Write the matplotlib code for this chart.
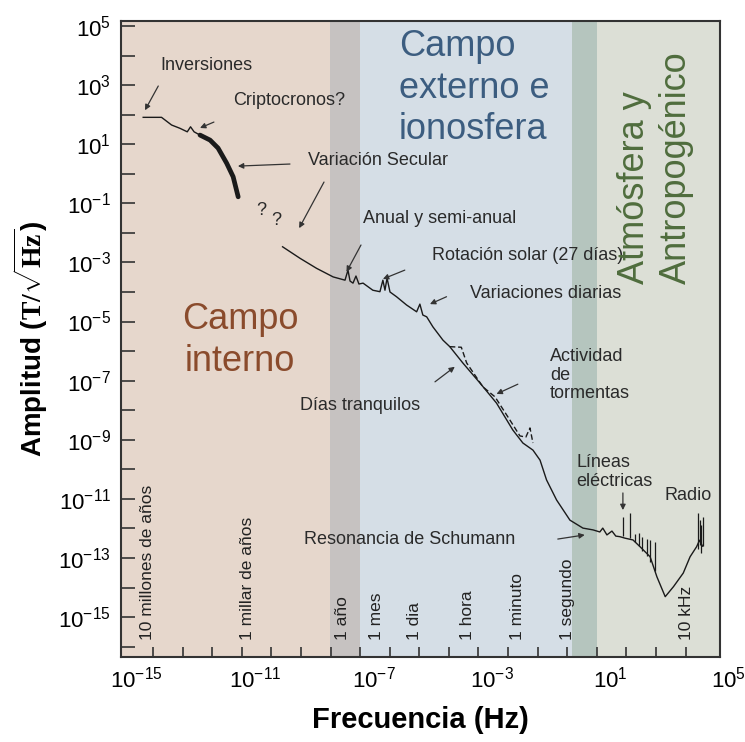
import numpy as np
import matplotlib.pyplot as plt

plt.rcParams['font.family'] = ['Liberation Sans', 'DejaVu Sans']
plt.rcParams['mathtext.fontset'] = 'custom'
plt.rcParams['mathtext.rm'] = 'Liberation Sans'
plt.rcParams['mathtext.bf'] = 'Liberation Serif:bold'

# todo en exponentes log10: frecuencia (Hz) y amplitud (T/sqrt(Hz))
xlim_exp = [-15.54, 4.71]
ylim_exp = [-16.35, 5.18]

band_edges = [-15.54, -8.47, -7.46, -0.30, 0.57, 4.71]
band_colors = ['#e6d7cc', '#c6c2c1', '#d5dee6', '#b5c5be', '#dcdfd6']

# variacion secular / inversiones (tramo fino y tramo grueso)
sec_f = [-14.78, -14.16, -13.82, -13.54, -13.29, -13.18, -13.06, -12.86]
sec_a = [1.91, 1.91, 1.65, 1.54, 1.42, 1.59, 1.42, 1.31]
sec2_f = [-12.86, -12.52, -12.25, -11.96, -11.74, -11.57]
sec2_a = [1.31, 1.14, 0.87, 0.36, -0.10, -0.78]

# espectro principal
main_f = [-10.07, -9.48, -8.92, -8.36, -7.96, -7.86, -7.79, -7.69, -7.59, -7.49,
          -7.35, -7.02, -6.78, -6.68, -6.61, -6.54, -6.44, -6.22, -5.88, -5.54,
          -5.43, -5.33, -5.20, -4.99, -4.65, -4.42, -3.98, -3.40, -2.84, -2.29,
          -1.95, -1.61, -1.37, -1.15, -0.81, -0.36, 0.08, 0.42, 0.65, 0.75,
          0.89, 1.06, 1.19, 1.33, 1.50, 1.77, 2.01, 2.35, 2.58, 2.86,
          3.14, 3.47, 3.70, 3.92, 4.02, 4.12]
main_a = [-2.47, -2.86, -3.20, -3.49, -3.60, -3.26, -3.63, -3.70, -3.46, -3.73,
          -3.70, -3.94, -3.99, -3.60, -3.94, -3.53, -4.00, -4.16, -4.44, -4.67,
          -4.41, -4.78, -4.84, -5.18, -5.63, -5.85, -6.40, -7.08, -7.76, -8.67,
          -9.11, -9.35, -9.69, -10.36, -11.04, -11.72, -11.99, -12.05, -12.12, -11.99,
          -12.22, -12.09, -12.26, -12.28, -12.33, -12.39, -12.62, -12.96, -13.64, -14.31,
          -13.97, -13.51, -12.96, -12.62, -12.40, -12.60]

# dias con tormenta (linea discontinua)
storm_f = [-4.42, -4.03, -3.85, -3.30, -2.89, -2.39, -2.05, -1.85, -1.71, -1.61]
storm_a = [-5.85, -5.87, -6.40, -7.21, -7.55, -8.33, -8.87, -8.91, -8.60, -9.11]

# picos: lineas electricas y radio
spike_f = [1.42, 1.67, 1.83, 1.98, 2.09, 2.23, 2.36, 2.51, 3.97, 4.02, 4.07, 4.12]
spike_lo = [-12.26, -12.33, -12.45, -12.60, -12.75, -12.95, -13.15, -13.45, -12.70, -12.55, -12.83, -12.60]
spike_hi = [-11.60, -11.48, -12.20, -12.15, -12.30, -12.35, -12.40, -12.45, -11.48, -11.70, -11.90, -11.60]

# etiquetas de periodo (verticales)
period_labels = ['10 millones de años', '1 millar de años', '1 año', '1 mes', '1 dia',
                 '1 hora', '1 minuto', '1 segundo', '10 kHz']
period_f = [-14.62, -11.24, -8.03, -6.88, -5.60, -3.81, -2.12, -0.43, 3.59]
period_y = -15.78

# anotaciones: texto, posicion del texto, cola y punta de la flecha
notes = ['Inversiones', 'Criptocronos?', 'Variación Secular', 'Anual y semi-anual',
         'Rotación solar (27 días)', 'Variaciones diarias', 'Actividad\nde\ntormentas',
         'Días tranquilos', 'Resonancia de Schumann', 'Líneas\neléctricas', 'Radio',
         '?', '?']
notes_f = [-14.21, -11.75, -9.21, -7.35, -5.03, -3.74, -1.04, -9.48, -9.35, -0.13, 2.84,
           -10.95, -10.44]
notes_a = [3.68, 2.49, 0.46, -1.53, -2.78, -4.04, -6.81, -7.83, -12.39, -10.09, -10.87,
           -1.23, -1.57]

arrow_tail = [(-14.27, 2.97), (-12.39, 1.75), (-9.82, 0.33), (-8.67, -0.28),
              (-7.42, -2.41), (-5.94, -3.26), (-4.53, -4.16), (-2.12, -7.12),
              (-4.92, -7.04), (-0.77, -12.36), (1.43, -10.80)]
arrow_head = [(-14.72, 2.15), (-12.86, 1.55), (-11.58, 0.26), (-9.51, -1.84),
              (-7.91, -3.32), (-6.68, -3.56), (-5.09, -4.41), (-2.84, -7.45),
              (-4.25, -6.53), (0.14, -12.22), (1.43, -11.38)]


def p(v):
    return 10.0 ** np.asarray(v)


fig = plt.figure(figsize=(7.45, 7.42), dpi=100)
ax = fig.add_axes([0.162, 0.1146, 0.8044, 0.8575])
ax.set_xscale('log')
ax.set_yscale('log')
ax.set_xlim(p(xlim_exp))
ax.set_ylim(p(ylim_exp))

for i in range(len(band_colors)):
    ax.axvspan(p(band_edges[i]), p(band_edges[i + 1]), color=band_colors[i], lw=0, zorder=0)

ink = '#1a1a1a'
ax.plot(p(sec_f), p(sec_a), color=ink, lw=1.0)
ax.plot(p(sec2_f), p(sec2_a), color=ink, lw=3.4, solid_capstyle='round')
ax.plot(p(main_f), p(main_a), color=ink, lw=1.0)
ax.plot(p(storm_f), p(storm_a), color=ink, lw=1.0, ls=(0, (4, 2)))
ax.vlines(p(spike_f), p(spike_lo), p(spike_hi), color=ink, lw=0.9)

for lab, f in zip(period_labels, period_f):
    ax.text(p(f), p(period_y), lab, rotation=90, ha='center', va='bottom',
            fontsize=12.5, color='#222222')

for t, f, a in zip(notes, notes_f, notes_a):
    ax.text(p(f), p(a), t, ha='left', va='center', fontsize=13, color='#2a2a2a',
            linespacing=1.15)

for tail, head in zip(arrow_tail, arrow_head):
    ax.annotate('', xy=(p(head[0]), p(head[1])), xytext=(p(tail[0]), p(tail[1])),
                arrowprops=dict(arrowstyle='-|>', color='#333333', lw=0.9,
                                mutation_scale=8, shrinkA=0, shrinkB=0))

ax.text(p(-11.51), p(-5.63), 'Campo\ninterno', ha='center', va='center',
        fontsize=26, color='#8a4b2c', linespacing=1.25)
ax.text(p(-6.14), p(2.90), 'Campo\nexterno e\nionosfera', ha='left', va='center',
        fontsize=26, color='#3c5d80', linespacing=1.25)
ax.text(p(2.54), p(-3.73), 'Atmósfera y\nAntropogénico', rotation=90, ha='center',
        va='bottom', multialignment='left', fontsize=26, color='#4f6d3d', linespacing=1.25)

# ejes
ax.set_xticks(p([-15, -11, -7, -3, 1]))
ax.set_xticks(p(np.arange(-15, 4) + 0.55), minor=True)
ax.set_yticks(p(np.arange(-15, 6, 2)))
ax.set_yticks(p(np.arange(-16, 6)), minor=True)
ax.tick_params(axis='x', which='major', length=0, labelsize=16, pad=7)
ax.tick_params(axis='x', which='minor', direction='in', length=7, width=1.2, color='#333333')
ax.tick_params(axis='y', which='major', direction='in', length=10, width=1.2,
               color='#333333', labelsize=16, pad=7)
ax.tick_params(axis='y', which='minor', direction='in', length=10, width=1.2, color='#333333')
ax.yaxis.set_minor_formatter(plt.NullFormatter())
ax.xaxis.set_minor_formatter(plt.NullFormatter())
ax.annotate(r'$\mathdefault{10^{5}}$', xy=(1e5, 0), xycoords=('data', 'axes fraction'),
            xytext=(0, -7), textcoords='offset points', ha='center', va='top',
            fontsize=16, annotation_clip=False)

for s in ax.spines.values():
    s.set_color('#333333')
    s.set_linewidth(1.5)

ax.set_xlabel('Frecuencia (Hz)', fontsize=21, fontweight='bold', labelpad=10)
ax.set_ylabel(r'Amplitud ($\mathbf{T/\sqrt{Hz}}$)', fontsize=20, fontweight='bold',
              labelpad=6)

fig.savefig('out.png', dpi=100)
